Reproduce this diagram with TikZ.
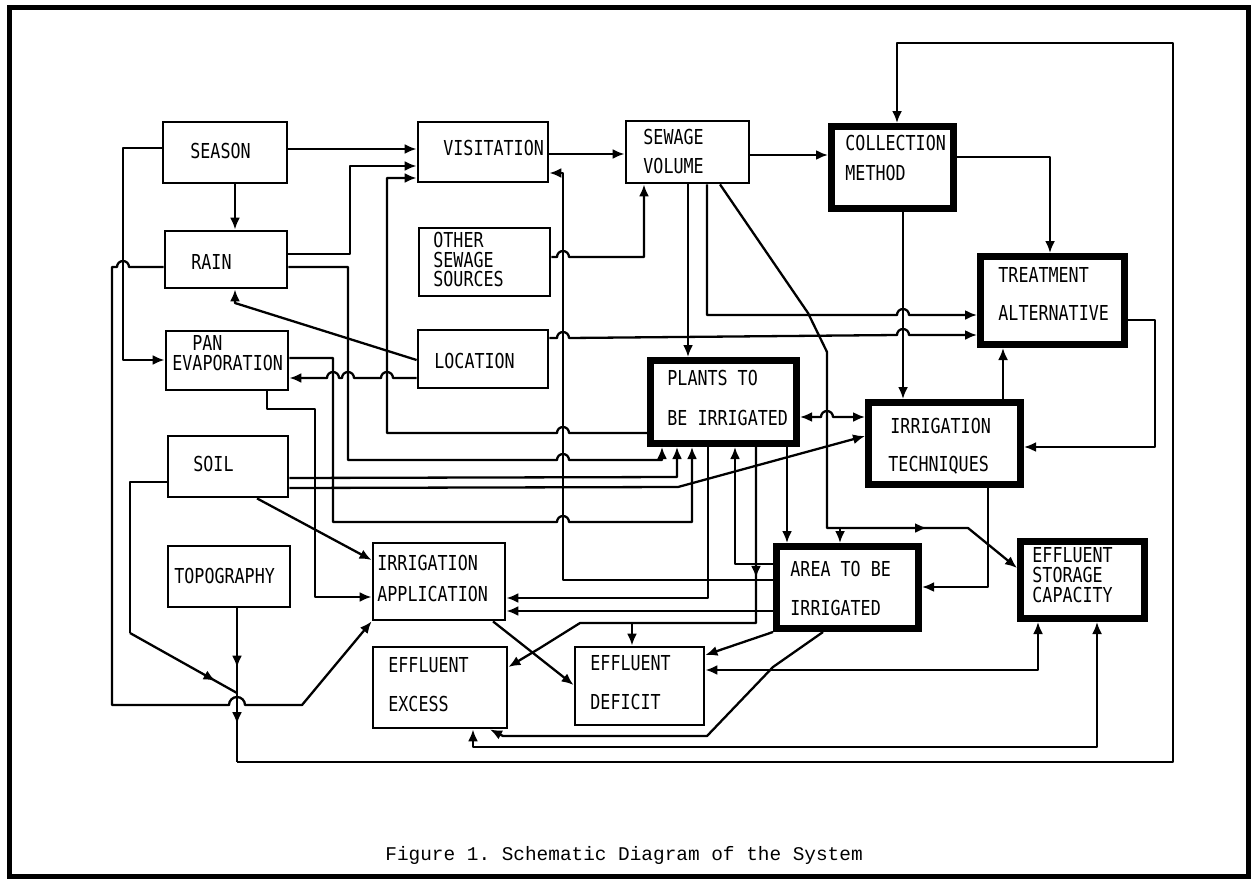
\documentclass[tikz,border=0pt]{standalone}
\usepackage{fontspec}
\usetikzlibrary{arrows.meta,decorations.markings}
\newfontfamily\boxfont[FakeStretch=0.81]{DejaVu Sans Mono}
\newfontfamily\capfont{Liberation Mono}
\newcommand\mkbox[6]{\node[#6, minimum width={(#4-#2)*0.5pt}, minimum height={(#5-#3)*0.5pt}] (#1) at ({(#2+#4)/2},{(#3+#5)/2}) {};}
\frenchspacing
\begin{document}
\begin{tikzpicture}[x=0.5pt,y=-0.5pt,
  box/.style={draw, line width=1.4pt, inner sep=0pt},
  thickbox/.style={draw, line width=3.5pt, inner sep=0pt},
  lbl/.style={font=\fontsize{10.3}{12}\boxfont, anchor=west, inner sep=0pt},
  ln/.style={line width=1.15pt, line join=round},
  arr/.style={ln, -{Latex[length=6pt,width=5pt]}},
  darr/.style={ln, {Latex[length=6pt,width=5pt]}-{Latex[length=6pt,width=5pt]}},
  midarr/.style={postaction={decorate}, decoration={markings, mark=at position #1 with {\arrow{Latex[length=6pt,width=5pt]}}}}
]
\useasboundingbox (0,0) rectangle (1256,883);
\draw[line width=2.5pt] (9,8) rectangle (1248,876);

% boxes
\mkbox{season}{163}{122}{287}{183}{box}
\mkbox{rain}{165}{231}{287}{288}{box}
\mkbox{visit}{418}{122}{548}{182}{box}
\mkbox{other}{419}{228}{550}{296}{box}
\mkbox{sewvol}{626}{121}{749}{183}{box}
\mkbox{coll}{831.5}{126.5}{953.5}{208.5}{thickbox}
\mkbox{treat}{980.5}{256.5}{1124.5}{344.5}{thickbox}
\mkbox{pan}{166}{331}{288}{390}{box}
\mkbox{loc}{418}{330}{548}{388}{box}
\mkbox{plants}{650.5}{360.5}{796.5}{443.5}{thickbox}
\mkbox{irrtech}{868.5}{402.5}{1020.5}{484.5}{thickbox}
\mkbox{soil}{168}{436}{288}{497}{box}
\mkbox{topo}{168}{546}{290}{607}{box}
\mkbox{irrapp}{373}{543}{505}{620}{box}
\mkbox{excess}{373}{647}{507}{728}{box}
\mkbox{deficit}{575}{647}{704}{725}{box}
\mkbox{area}{776.5}{546.5}{918.5}{628.5}{thickbox}
\mkbox{storage}{1020.5}{541.5}{1144.5}{618.5}{thickbox}

% labels
\node[lbl] (t1) at (190,151) {SEASON};
\node[lbl] (t2) at (443,148) {VISITATION};
\node[lbl] (t3) at (191,262) {RAIN};
\node[lbl] (t4a) at (433,240) {OTHER};
\node[lbl] (t4b) at (433,260) {SEWAGE};
\node[lbl] (t4c) at (433,279) {SOURCES};
\node[lbl] (t5a) at (643,137) {SEWAGE};
\node[lbl] (t5b) at (643,166) {VOLUME};
\node[lbl] (t6a) at (845,143) {COLLECTION};
\node[lbl] (t6b) at (845,173) {METHOD};
\node[lbl] (t7a) at (998,275) {TREATMENT};
\node[lbl] (t7b) at (998,313) {ALTERNATIVE};
\node[lbl] (t8a) at (192,343) {PAN};
\node[lbl] (t8b) at (172,363) {EVAPORATION};
\node[lbl] (t9) at (434,361) {LOCATION};
\node[lbl] (t10a) at (667,378) {PLANTS TO};
\node[lbl] (t10b) at (667,418) {BE IRRIGATED};
\node[lbl] (t11a) at (890,426) {IRRIGATION};
\node[lbl] (t11b) at (888,465) {TECHNIQUES};
\node[lbl] (t12) at (193,464) {SOIL};
\node[lbl] (t13) at (174,576) {TOPOGRAPHY};
\node[lbl] (t14a) at (377,563) {IRRIGATION};
\node[lbl] (t14b) at (377,594) {APPLICATION};
\node[lbl] (t15a) at (388,665) {EFFLUENT};
\node[lbl] (t15b) at (388,704) {EXCESS};
\node[lbl] (t16a) at (590,663) {EFFLUENT};
\node[lbl] (t16b) at (590,702) {DEFICIT};
\node[lbl] (t17a) at (790,569) {AREA TO BE};
\node[lbl] (t17b) at (790,608) {IRRIGATED};
\node[lbl] (t18a) at (1032,555) {EFFLUENT};
\node[lbl] (t18b) at (1032,575) {STORAGE};
\node[lbl] (t18c) at (1032,595) {CAPACITY};
\node[font=\fontsize{9.7}{12}\capfont, anchor=west, inner sep=0pt] (cap) at (385,855) {Figure 1. Schematic Diagram of the System};

\coordinate (junc) at (237,693);

% connectors
\draw[arr] (season.east |- 0,149) -- (visit.west |- 0,149);
\draw[arr] (season.south -| 235,0) -- (rain.north -| 235,0);
\draw[arr] (season.west |- 0,148) -- (123,148) -- (123,360) -- (pan.west |- 0,360);
\draw[arr] (rain.east |- 0,254) -- (350,254) -- (350,166) -- (visit.west |- 0,166);
\draw[arr] (rain.east |- 0,267) -- (348,267) -- (348,460) -- (557,460) arc[start angle=180,end angle=360,radius=6] -- (662,460) -- (plants.south -| 662,0);
\draw[arr] (rain.west |- 0,267) -- (129,267) arc[start angle=0,end angle=-180,radius=6] -- (112,267) -- (112,705) -- (229,705) arc[start angle=180,end angle=360,radius=8] -- (302,705) -- (irrapp.south west);
\draw[arr] (loc.west |- 0,360) -- (235,303) -- (rain.south -| 235,0);
\draw[arr] (loc.west |- 0,378) -- (393,378) arc[start angle=0,end angle=-180,radius=6] -- (354,378) arc[start angle=0,end angle=-180,radius=6] -- (339,378) arc[start angle=0,end angle=-180,radius=6] -- (pan.east |- 0,378);
\draw[arr] (pan.east |- 0,358) -- (333,358) -- (333,522) -- (557,522) arc[start angle=180,end angle=360,radius=6] -- (692,522) -- (plants.south -| 692,0);
\draw[arr] (pan.south -| 267,0) -- (267,409) -- (315,409) -- (315,597) -- (irrapp.west |- 0,597);
\draw[arr] (soil.east |- 0,478) -- (677,477) -- (plants.south -| 677,0);
\draw[arr] (soil.east |- 0,488) -- (678,487) -- (irrtech.west |- 0,436);
\draw[arr] (soil.south -| 257,0) -- (irrapp.west |- 0,560);
\draw[ln] (soil.west |- 0,482) -- (130,482) -- (130,633);
\draw[ln, midarr=0.8] (130,633) -- (junc);
\draw[ln, midarr=0.7] (topo.south -| 237,0) -- (junc);
\draw[ln, midarr=0.45] (junc) -- (237,762);
\draw[arr] (237,762) -- (1173,762) -- (1173,43) -- (897,43) -- (coll.north -| 897,0);
\draw[arr] (plants.west |- 0,433) -- (569,433) arc[start angle=0,end angle=-180,radius=6] -- (387,433) -- (387,178) -- (visit.west |- 0,178);
\draw[arr] (area.west |- 0,580) -- (563,580) -- (563,173) -- (visit.east |- 0,173);
\draw[arr] (other.east |- 0,257) -- (557,257) arc[start angle=180,end angle=360,radius=6] -- (644,257) -- (sewvol.south -| 644,0);
\draw[arr] (visit.east |- 0,154) -- (sewvol.west |- 0,154);
\draw[arr] (sewvol.east |- 0,155) -- (coll.west |- 0,155);
\draw[arr] (sewvol.south -| 688,0) -- (plants.north -| 688,0);
\draw[arr] (sewvol.south -| 707,0) -- (707,315) -- (897,315) arc[start angle=180,end angle=360,radius=6] -- (treat.west |- 0,315);
\draw[arr] (loc.east |- 0,338) -- (557,338) arc[start angle=180,end angle=360,radius=6] -- (897,335) arc[start angle=180,end angle=360,radius=6] -- (treat.west |- 0,335);
\draw[arr, midarr=0.82] (sewvol.south -| 720,0) -- (808,313) -- (827,352) -- (827,528) -- (968,528) -- (storage.west |- 0,568);
\draw[arr] (840,528) -- (area.north -| 840,0);
\draw[arr] (coll.east |- 0,157) -- (1050,157) -- (treat.north -| 1050,0);
\draw[arr] (coll.south -| 903,0) -- (irrtech.north -| 903,0);
\draw[arr] (irrtech.north -| 1003,0) -- (treat.south -| 1003,0);
\draw[arr] (treat.east |- 0,320) -- (1155,320) -- (1155,447) -- (irrtech.east |- 0,447);
\draw[arr] (irrtech.south -| 988,0) -- (988,587) -- (area.east |- 0,587);
\draw[darr] (plants.east |- 0,417) -- (821,417) arc[start angle=180,end angle=360,radius=6] -- (irrtech.west |- 0,417);
\draw[arr] (plants.south -| 787,0) -- (area.north -| 787,0);
\draw[arr] (area.west |- 0,564) -- (735,564) -- (plants.south -| 735,0);
\draw[arr] (plants.south -| 708,0) -- (708,598) -- (irrapp.east |- 0,598);
\draw[arr] (area.west |- 0,611) -- (irrapp.east |- 0,611);
\draw[arr, midarr=0.3] (plants.south -| 756,0) -- (756,623) -- (580,623) -- (540,648) -- (excess.east |- 0,667);
\draw[arr] (632,623) -- (deficit.north -| 632,0);
\draw[arr] (irrapp.south -| 493,0) -- (deficit.west |- 0,685);
\draw[arr] (area.south west) -- (deficit.east |- 0,655);
\draw[darr] (deficit.east |- 0,670) -- (1038,670) -- (storage.south -| 1038,0);
\draw[arr] (area.south -| 823,0) -- (773,667) -- (707,736) -- (503,736) -- (excess.south -| 490,0);
\draw[darr] (excess.south -| 473,0) -- (473,747) -- (1097,747) -- (storage.south -| 1097,0);
\end{tikzpicture}
\end{document}
